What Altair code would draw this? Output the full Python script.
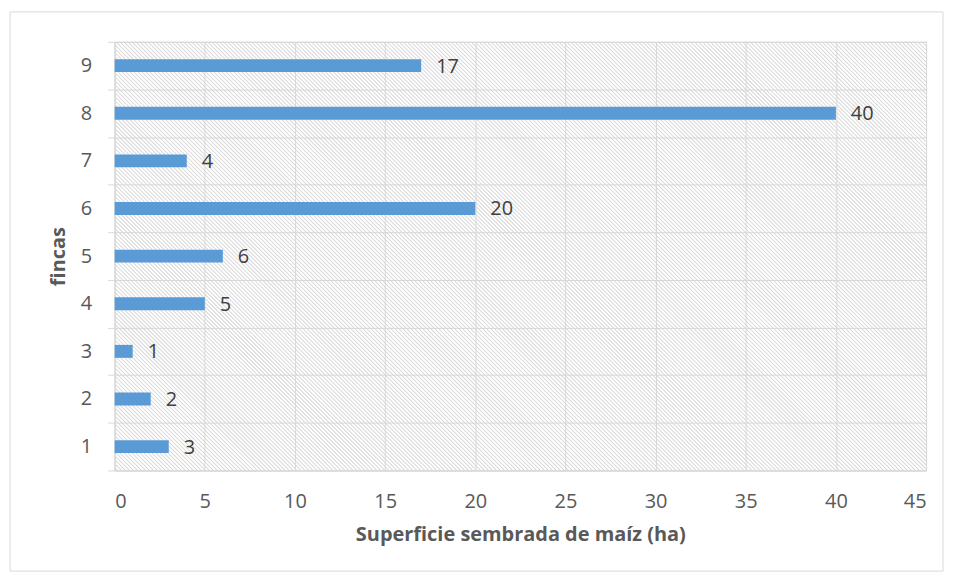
import altair as alt
import pandas as pd

fincas = ["1", "2", "3", "4", "5", "6", "7", "8", "9"]
superficie = [3, 2, 1, 5, 6, 20, 4, 40, 17]
x_ticks = [0, 5, 10, 15, 20, 25, 30, 35, 40, 45]
x_title = "Superficie sembrada de maíz (ha)"
y_title = "fincas"

df = pd.DataFrame({"finca": fincas, "ha": superficie})

W, H = 814, 430
FONT = "Open Sans"
ORDER = list(reversed(fincas))

one = alt.Data(values=[{"a": 1}])

# decorative outer frame
frame = alt.Chart(one).mark_rect(fill="transparent", stroke="#d9d9d9", strokeWidth=1).encode(
    x=alt.value(-105), x2=alt.value(831), y=alt.value(-30), y2=alt.value(531)
)

# decorative 45-degree hatch: a very wide dashed stroke, clipped to the plot area
half = 560
hatch = alt.Chart(one).mark_rule(
    clip=True, stroke="#d6d6d6", strokeWidth=1100, strokeDash=[0.95, 1.88], strokeCap="butt"
).encode(
    x=alt.value(W / 2 - half), y=alt.value(H / 2 + half),
    x2=alt.value(W / 2 + half), y2=alt.value(H / 2 - half),
)

x_axis = alt.Axis(
    values=x_ticks, title=x_title, grid=True, gridColor="#d9d9d9", gridWidth=1,
    ticks=False, tickSize=0, domainColor="#d9d9d9", labelPadding=21,
    labelFontSize=20, labelColor="#595959", labelFont=FONT,
    titleFontSize=20, titleFont=FONT, titleFontWeight="bold", titleColor="#595959",
    titlePadding=13,
)
y_axis = alt.Axis(
    title=y_title, tickBand="extent", grid=True, gridColor="#d9d9d9", gridWidth=1,
    ticks=True, tickSize=7, tickColor="#d9d9d9", domainColor="#d9d9d9",
    labelPadding=16, labelFontSize=20, labelColor="#595959", labelFont=FONT,
    titleFontSize=20, titleFont=FONT, titleFontWeight="bold", titleColor="#595959",
    titlePadding=12,
)
x_scale = alt.Scale(domain=[0, 45], nice=False)
y_scale = alt.Scale(paddingInner=0, paddingOuter=0)

base = alt.Chart(df)
bars = base.mark_bar(color="#5b9bd5", size=13).encode(
    x=alt.X("ha:Q", scale=x_scale, axis=x_axis),
    y=alt.Y("finca:N", sort=ORDER, scale=y_scale, axis=y_axis),
)
labels = base.mark_text(align="left", dx=15, dy=1, fontSize=20, font=FONT, color="#404040").encode(
    x="ha:Q", y=alt.Y("finca:N", sort=ORDER), text="ha:Q"
)

chart = (
    alt.layer(frame, hatch, bars, labels)
    .properties(width=W, height=H, padding={"left": 1, "top": 2, "right": 2, "bottom": 2})
    .configure_view(stroke=None)
    .configure(background="white")
)

chart.save("out.html", embed_options={"renderer": "svg", "actions": False})
